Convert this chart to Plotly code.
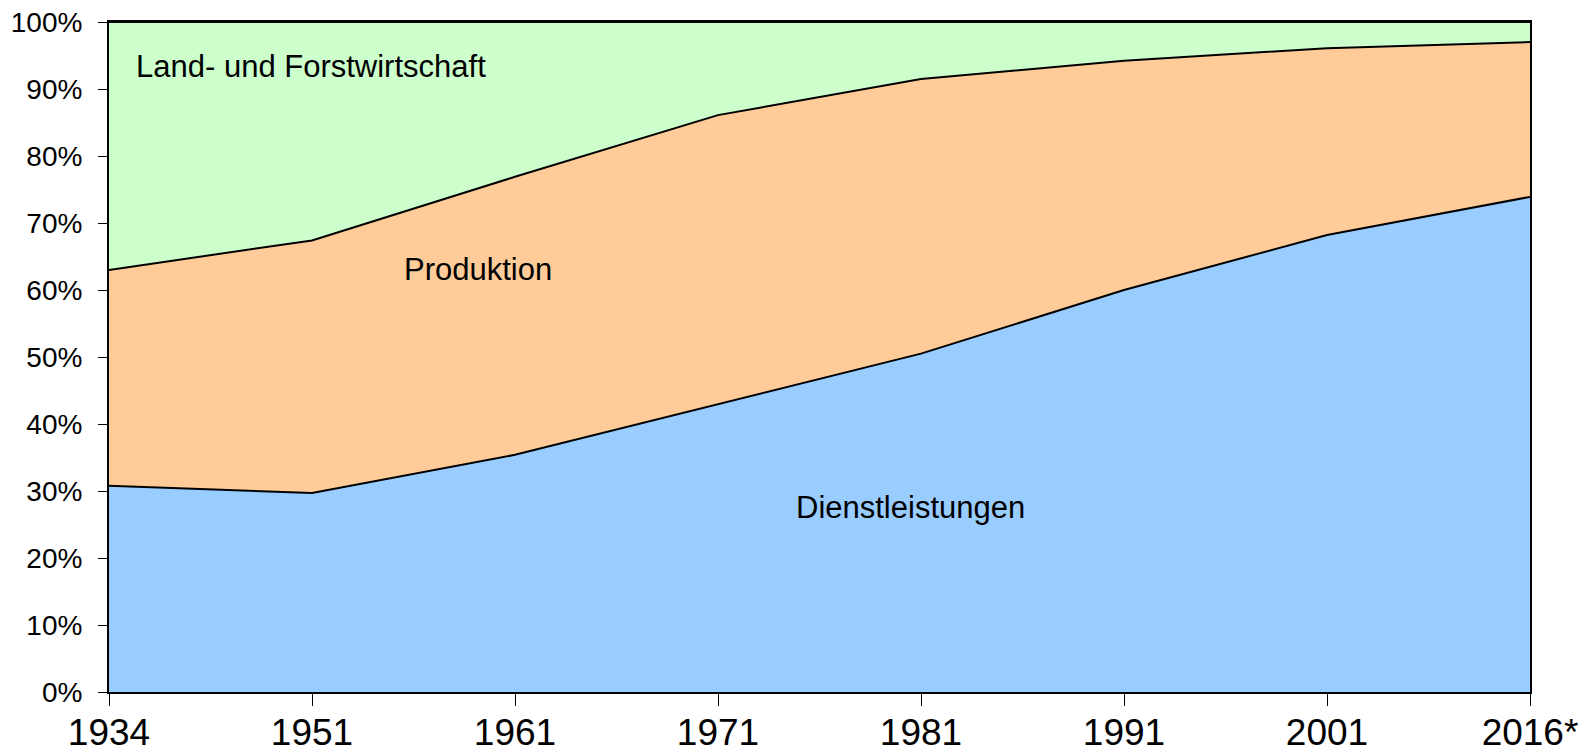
import plotly.graph_objects as go

years = ["1934", "1951", "1961", "1971", "1981", "1991", "2001", "2016*"]
dienstleistungen = [30.8, 29.7, 35.4, 43.0, 50.5, 60.0, 68.2, 73.9]
produktion = [32.2, 37.7, 41.5, 43.1, 41.0, 34.2, 27.9, 23.1]
land_forst = [37.0, 32.6, 23.1, 13.9, 8.5, 5.8, 3.9, 3.0]
y_ticks = [0, 10, 20, 30, 40, 50, 60, 70, 80, 90, 100]
y_tick_labels = [f"{v}%" for v in y_ticks]

series = [
    ("Dienstleistungen", dienstleistungen, "#99CCFF"),
    ("Produktion", produktion, "#FFCC99"),
    ("Land- und Forstwirtschaft", land_forst, "#CCFFCC"),
]

xs = list(range(len(years)))
FONT = "Liberation Sans, Arial, sans-serif"

fig = go.Figure()
for name, vals, col in series:
    fig.add_trace(go.Scatter(
        x=xs, y=vals, name=name, mode="lines", stackgroup="one",
        line=dict(color="black", width=2), fillcolor=col,
        hoverinfo="x+y+name",
    ))

labels = [
    ("Land- und Forstwirtschaft", 0.123, 93.3),
    ("Produktion", 1.443, 63.0),
    ("Dienstleistungen", 3.374, 27.5),
]
for txt, lx, ly in labels:
    fig.add_annotation(x=lx, y=ly, xref="x", yref="y", text=txt, showarrow=False,
                       xanchor="left", yanchor="middle",
                       font=dict(family=FONT, size=31, color="black"))

fig.update_layout(
    width=1596, height=756,
    margin=dict(l=109, r=66, t=22, b=64),
    paper_bgcolor="white", plot_bgcolor="white",
    showlegend=False,
    font=dict(family=FONT, color="black"),
)
fig.update_xaxes(
    range=[0, len(years) - 1], tickvals=xs, ticktext=years,
    showgrid=False, zeroline=False, automargin=False,
    showline=True, linecolor="black", linewidth=2, mirror=True,
    ticks="outside", ticklen=12, tickwidth=1, tickcolor="black",
    tickfont=dict(family=FONT, size=37, color="black"),
    ticklabelstandoff=-5,
)
fig.update_yaxes(
    range=[0, 100], tickvals=y_ticks, ticktext=y_tick_labels,
    showgrid=False, zeroline=False, automargin=False,
    showline=True, linecolor="black", linewidth=2, mirror=True,
    ticks="outside", ticklen=9, tickwidth=1, tickcolor="black",
    tickfont=dict(family=FONT, size=28, color="black"),
    ticklabelstandoff=10,
)

fig.write_html(
    "out.html",
    config={"displayModeBar": False},
    post_script="document.body.style.margin='0';document.body.style.overflow='hidden';",
)
